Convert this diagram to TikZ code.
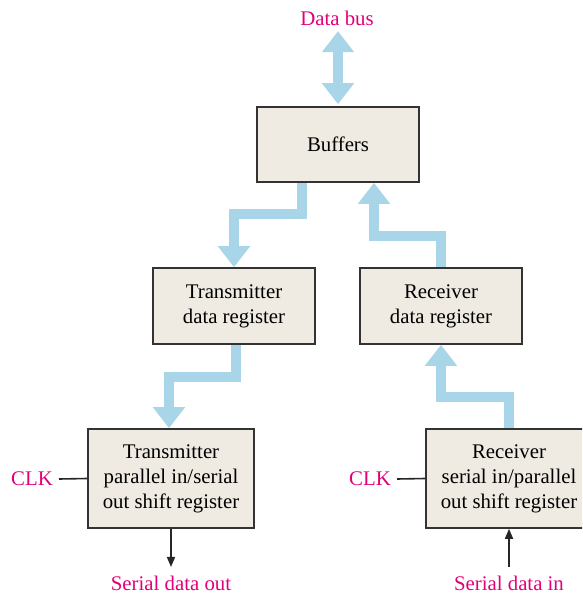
\documentclass[tikz,border=0pt]{standalone}
\usepackage{fontspec}
\setmainfont{Liberation Serif}
\usetikzlibrary{arrows.meta,backgrounds}
\definecolor{boxfill}{RGB}{239,235,226}
\definecolor{busblue}{RGB}{168,213,232}
\definecolor{labelmag}{RGB}{226,0,122}
\begin{document}
\begin{tikzpicture}[x=1pt,y=-1pt,
  blk/.style={draw=black!80, line width=1.6pt, fill=boxfill, align=center, inner sep=0pt,
    font=\fontsize{20.8}{25}\selectfont},
  lbl/.style={text=labelmag, font=\fontsize{20.8}{25}\selectfont, inner sep=0pt},
  bus/.style={draw=busblue, line width=10pt, line join=miter, line cap=butt,
    -{Triangle[width=31pt,length=21pt]}},
  busdbl/.style={draw=busblue, line width=10pt, line cap=butt,
    {Triangle[width=31pt,length=21pt]}-{Triangle[width=31pt,length=21pt]}},
  sig/.style={draw=black!85, line width=1.6pt},
  sigarrow/.style={sig, -{Triangle[width=8pt,length=10pt]}}]
\useasboundingbox (0,0) rectangle (582,594);
\clip (0,0) rectangle (582,594);

\node[lbl] (dbus) at (337,18) {Data bus};
\node[blk, minimum width=162pt, minimum height=75pt] (buf) at (338,144.5) {Buffers};
\node[blk, minimum width=162pt, minimum height=76pt] (tdr) at (234,306) {Transmitter\\data register};
\node[blk, minimum width=162pt, minimum height=76pt] (rdr) at (441,306) {Receiver\\data register};
\node[blk, minimum width=166pt, minimum height=99pt] (tsr) at (171,478.5) {Transmitter\\parallel in/serial\\out shift register};
\node[blk, minimum width=166pt, minimum height=99pt] (rsr) at (509,478.5) {Receiver\\serial in/parallel\\out shift register};

\node[lbl] (clka) at (32,479) {CLK};
\node[lbl] (clkb) at (370,479) {CLK};
\node[lbl] (sout) at (171,583.5) {Serial data out};
\node[lbl] (sin) at (509,583.5) {Serial data in};

\begin{scope}[on background layer]
  \draw[busdbl] (buf.north) ++(0,-2) -- ++(0,-73);
  \draw[bus] ([xshift=-36pt]buf.south) -- ++(0,31) -| (tdr.north);
  \draw[bus] (rdr.north) -- ++(0,-31) -| ([xshift=36pt]buf.south);
  \draw[bus] ([xshift=2pt]tdr.south) -- ++(0,32) -| ([xshift=-2pt]tsr.north);
  \draw[bus] (rsr.north) -- ++(0,-31) -| (rdr.south);
\end{scope}

\draw[sig] (clka.east) ++(6,0) -- (tsr.west);
\draw[sig] (clkb.east) ++(6,0) -- (rsr.west);
\draw[sigarrow] (tsr.south) -- ([yshift=9pt]sout.north);
\draw[sigarrow] ([yshift=9pt]sin.north) -- (rsr.south);
\end{tikzpicture}
\end{document}
